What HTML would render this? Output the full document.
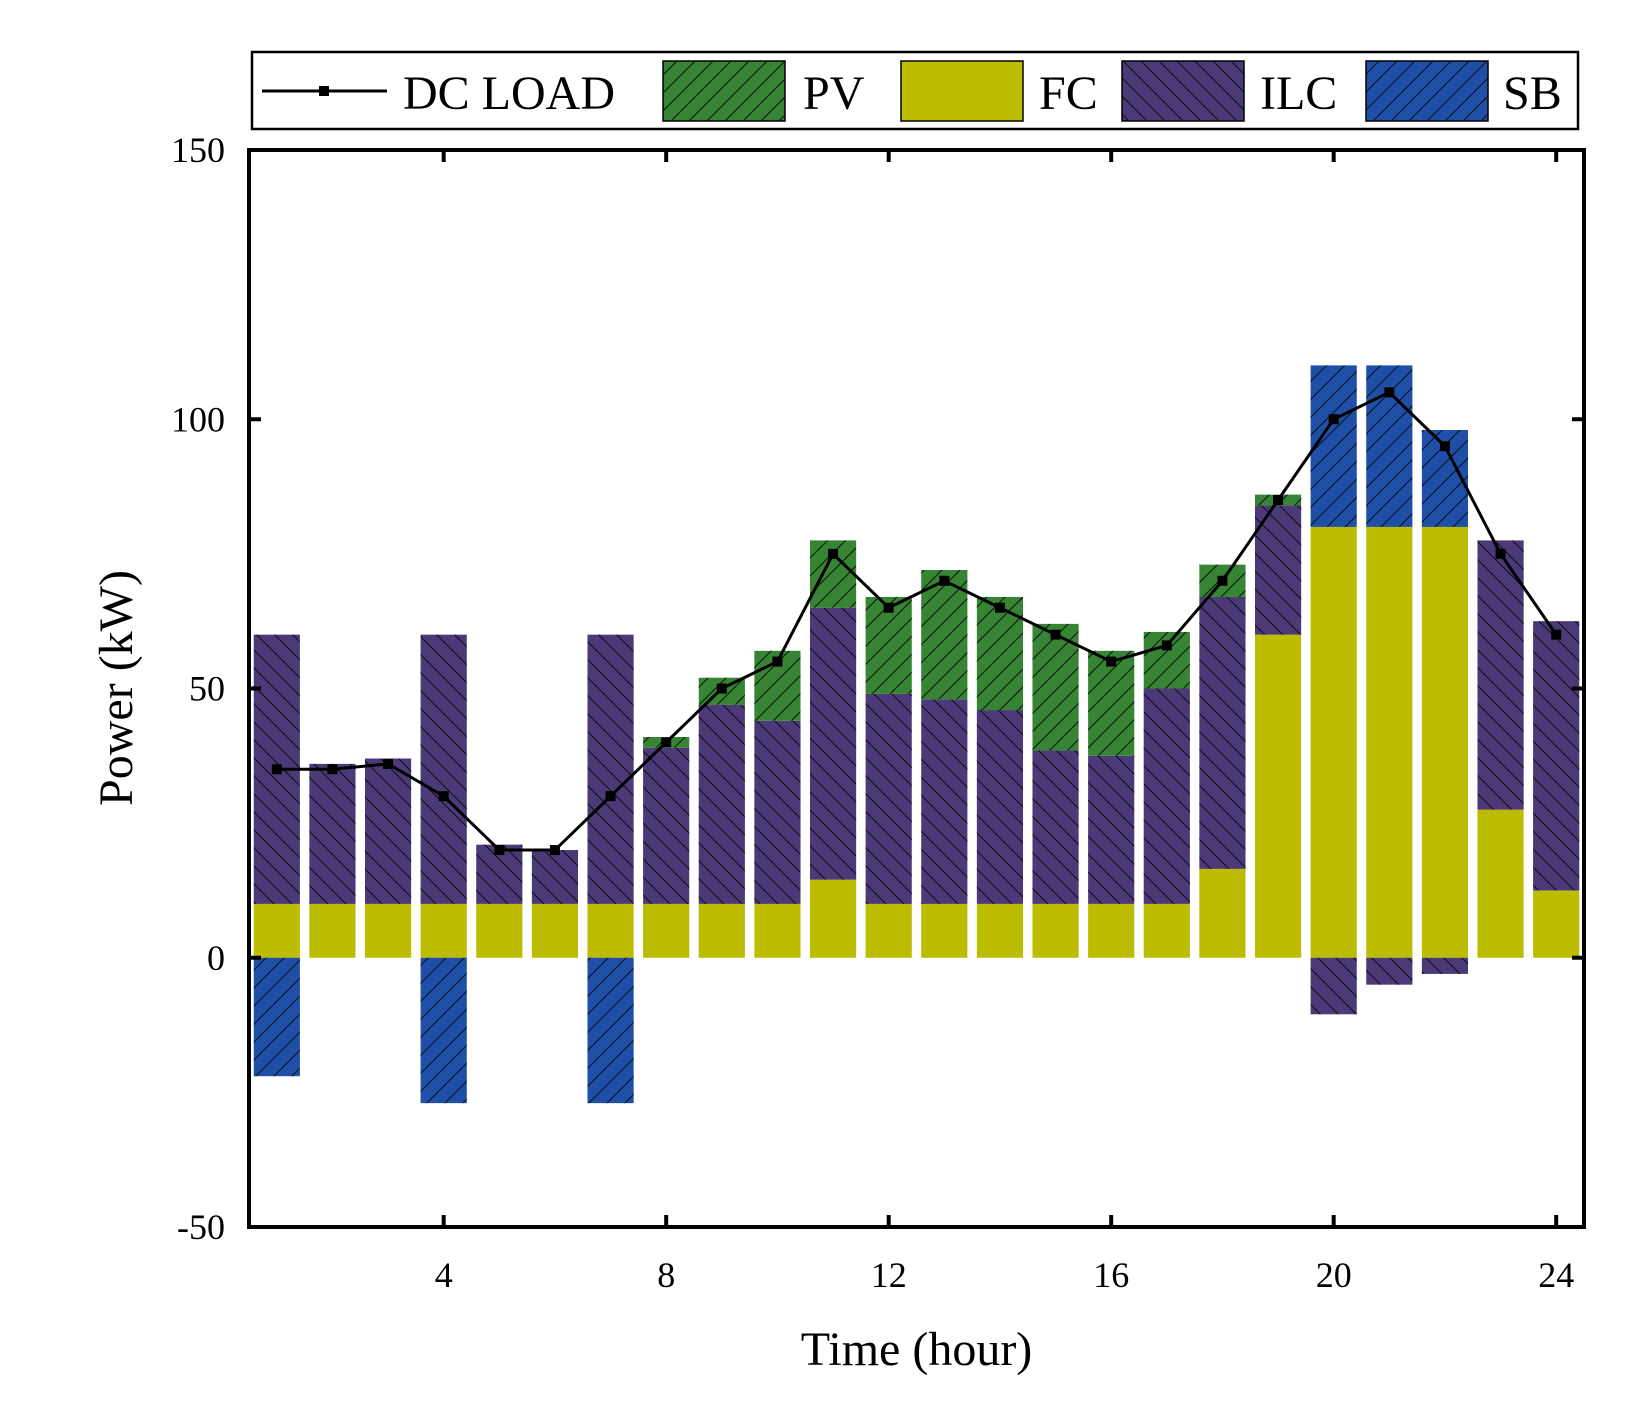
<!DOCTYPE html>
<html><head><meta charset="utf-8"><style>
html,body{margin:0;padding:0;background:#fff;}
svg text{font-family:"Liberation Serif",serif;fill:#000;}
</style></head><body>
<svg id="chart" width="1640" height="1419" viewBox="0 0 1640 1419" xmlns="http://www.w3.org/2000/svg">
<defs>
<pattern id="hf" patternUnits="userSpaceOnUse" width="18" height="18"><path d="M-2,20 L20,-2 M-11,11 L11,-11 M7,29 L29,7" stroke="#000" stroke-width="1.2" opacity="0.7"/></pattern>
<pattern id="hb" patternUnits="userSpaceOnUse" width="18" height="18"><path d="M-2,-2 L20,20 M-11,7 L11,29 M7,-11 L29,11" stroke="#000" stroke-width="1.2" opacity="0.7"/></pattern>
</defs>
<g id="bars"></g>
<g id="axes"></g>
<g id="legend"></g>
</svg>
<script>
const hours=[1,2,3,4,5,6,7,8,9,10,11,12,13,14,15,16,17,18,19,20,21,22,23,24];
const fc=[10,10,10,10,10,10,10,10,10,10,14.5,10,10,10,10,10,10,16.5,60,80,80,80,27.5,12.5];
const ilc=[50,26,27,50,11,10,50,29,37,34,50.5,39,38,36,28.5,27.5,40,50.5,24,-10.5,-5,-3,50,50];
const pv=[0,0,0,0,0,0,0,2,5,13,12.5,18,24,21,23.5,19.5,10.5,6,2,0,0,0,0,0];
const sb=[-22,0,0,-27,0,0,-27,0,0,0,0,0,0,0,0,0,0,0,0,30,30,18,0,0];
const load=[35,35,36,30,20,20,30,40,50,55,75,65,70,65,60,55,58,70,85,100,105,95,75,60];
const yTicks=[-50,0,50,100,150];
const xTicks=[4,8,12,16,20,24];
const NS='http://www.w3.org/2000/svg';
const L=249,R=1584,T=150,B=1227;
const xS=h=>L+(h-0.5)/24*(R-L);
const yS=v=>T+(150-v)/200*(B-T);
const bw=0.83*(R-L)/24;
const col={fc:'#bcbc00',ilc:'#4b3a77',pv:'#378434',sb:'#1f4fa6'};
function el(t,a,p){const e=document.createElementNS(NS,t);for(const k in a)e.setAttribute(k,a[k]);p.appendChild(e);return e;}
const bars=document.getElementById('bars');
function rect(x,v0,v1,c,pat,name){
  const y0=yS(Math.max(v0,v1)),y1=yS(Math.min(v0,v1));
  const r=el('rect',{x:x-bw/2,y:y0,width:bw,height:y1-y0,fill:c},bars);
  
  
  if(pat){const h=el('rect',{x:x-bw/2,y:y0,width:bw,height:y1-y0,fill:'url(#'+pat+')'},bars);
    
    }
}
hours.forEach((h,i)=>{
  const x=xS(h);let pos=0,neg=0;
  rect(x,0,fc[i],col.fc,null,'bar-fc-'+h);pos=fc[i];
  if(ilc[i]>=0){rect(x,pos,pos+ilc[i],col.ilc,'hb','bar-ilc-'+h);pos+=ilc[i];}
  else{rect(x,neg,neg+ilc[i],col.ilc,'hb','bar-ilc-'+h);neg+=ilc[i];}
  if(pv[i]>0){rect(x,pos,pos+pv[i],col.pv,'hf','bar-pv-'+h);pos+=pv[i];}
  if(sb[i]>0){rect(x,pos,pos+sb[i],col.sb,'hf','bar-sb-'+h);pos+=sb[i];}
  else if(sb[i]<0){rect(x,neg,neg+sb[i],col.sb,'hf','bar-sb-'+h);neg+=sb[i];}
});
const pts=hours.map((h,i)=>xS(h)+','+yS(load[i])).join(' ');
const pl=el('polyline',{points:pts,fill:'none',stroke:'#000','stroke-width':3},bars);


hours.forEach((h,i)=>{const m=el('rect',{x:xS(h)-5,y:yS(load[i])-5,width:10,height:10,fill:'#000'},bars);
  
  });
const ax=document.getElementById('axes');
const fr=el('rect',{x:L,y:T,width:R-L,height:B-T,fill:'none',stroke:'#000','stroke-width':4},ax);


yTicks.forEach(v=>{const y=yS(v);
  el('line',{x1:L,x2:L+12,y1:y,y2:y,stroke:'#000','stroke-width':4},ax);
  el('line',{x1:R,x2:R-12,y1:y,y2:y,stroke:'#000','stroke-width':4},ax);
  const t=el('text',{x:L-24,y:y+12,'text-anchor':'end','font-size':36},ax);t.textContent=v;
  
  });
xTicks.forEach(v=>{const x=xS(v);
  el('line',{x1:x,x2:x,y1:B,y2:B-12,stroke:'#000','stroke-width':4},ax);
  el('line',{x1:x,x2:x,y1:T,y2:T+12,stroke:'#000','stroke-width':4},ax);
  const t=el('text',{x:x,y:B+60,'text-anchor':'middle','font-size':36},ax);t.textContent=v;
  
  });
const xt=el('text',{x:(L+R)/2,y:1365,'text-anchor':'middle','font-size':48},ax);xt.textContent='Time (hour)';


const yt=el('text',{x:0,y:0,'text-anchor':'middle','font-size':48,transform:'translate(132,688) rotate(-90)'},ax);yt.textContent='Power (kW)';


const lg=document.getElementById('legend');
const lb=el('rect',{x:252,y:52,width:1326,height:77,fill:'#fff',stroke:'#000','stroke-width':2.5},lg);


el('line',{x1:262,x2:387,y1:91,y2:91,stroke:'#000','stroke-width':3},lg);
el('rect',{x:319,y:86,width:10,height:10,fill:'#000'},lg);
const items=[['DC LOAD',403,null,null],['PV',803,col.pv,'hf',663],['FC',1039,col.fc,null,901],['ILC',1260,col.ilc,'hb',1122],['SB',1503,col.sb,'hf',1366]];
items.forEach(it=>{
  if(it[2]){el('rect',{x:it[4],y:61,width:122,height:60,fill:it[2],stroke:'#000','stroke-width':1.5},lg);
    if(it[3])el('rect',{x:it[4],y:61,width:122,height:60,fill:'url(#'+it[3]+')'},lg);}
  const t=el('text',{x:it[1],y:109,'font-size':48},lg);t.textContent=it[0];
  
  
});
</script>
</body></html>
